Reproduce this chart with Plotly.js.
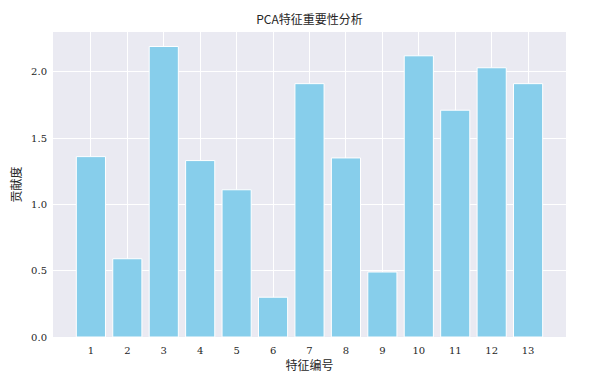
<!DOCTYPE html>
<html>
<head>
<meta charset="utf-8">
<script src="https://cdn.plot.ly/plotly-3.0.1.min.js"></script>
<style>html,body{margin:0;padding:0;background:#fff;}#chart{width:598px;height:376px;}</style>
</head>
<body>
<div id="chart"></div>
<script>
const features = [1,2,3,4,5,6,7,8,9,10,11,12,13];
const contributions = [1.36, 0.59, 2.19, 1.33, 1.11, 0.30, 1.91, 1.35, 0.49, 2.12, 1.71, 2.03, 1.91];
const tickLabels = ["1","2","3","4","5","6","7","8","9","10","11","12","13"];
const titleText = "PCA特征重要性分析";
const xTitle = "特征编号";
const yTitle = "贡献度";

const fontFam = "'DejaVu Serif', 'Liberation Serif', 'Noto Sans CJK SC', serif";
const cjkFam = "'Noto Sans CJK SC', 'DejaVu Serif', serif";

const trace = {
  type: 'bar',
  x: features,
  y: contributions,
  width: 0.8,
  marker: {color: '#87CEEB', line: {color: '#ffffff', width: 1}},
  hoverinfo: 'skip'
};

const layout = {
  width: 598, height: 376,
  margin: {l: 53, r: 32, t: 32, b: 39},
  paper_bgcolor: '#ffffff',
  plot_bgcolor: '#EAEAF2',
  showlegend: false,
  font: {family: fontFam, size: 10, color: '#262626'},
  title: {text: titleText, font: {family: cjkFam, size: 12, color: '#262626'}, x: 0.5175, xanchor: 'center', y: 0.948, yanchor: 'middle'},
  xaxis: {
    range: [-0.04, 14.04],
    tickvals: features,
    ticktext: tickLabels,
    showgrid: true, gridcolor: '#ffffff', gridwidth: 1,
    zeroline: false, showline: false, ticks: '',
    ticklen: 0,
    ticklabelstandoff: 6,
    automargin: false,
    tickfont: {family: fontFam, size: 10, color: '#262626'},
    title: {text: xTitle, font: {family: cjkFam, size: 12, color: '#262626'}, standoff: 4}
  },
  yaxis: {
    range: [0, 2.2995],
    tickvals: [0, 0.5, 1.0, 1.5, 2.0],
    tickformat: '.1f',
    showgrid: true, gridcolor: '#ffffff', gridwidth: 1,
    zeroline: false, showline: false, ticks: '',
    ticklabelstandoff: 5,
    automargin: false,
    tickfont: {family: fontFam, size: 10, color: '#262626'},
    title: {text: yTitle, font: {family: cjkFam, size: 12, color: '#262626'}, standoff: 6}
  },
  bargap: 0.2
};

Plotly.newPlot('chart', [trace], layout, {displayModeBar: false, staticPlot: true});
</script>
</body>
</html>
